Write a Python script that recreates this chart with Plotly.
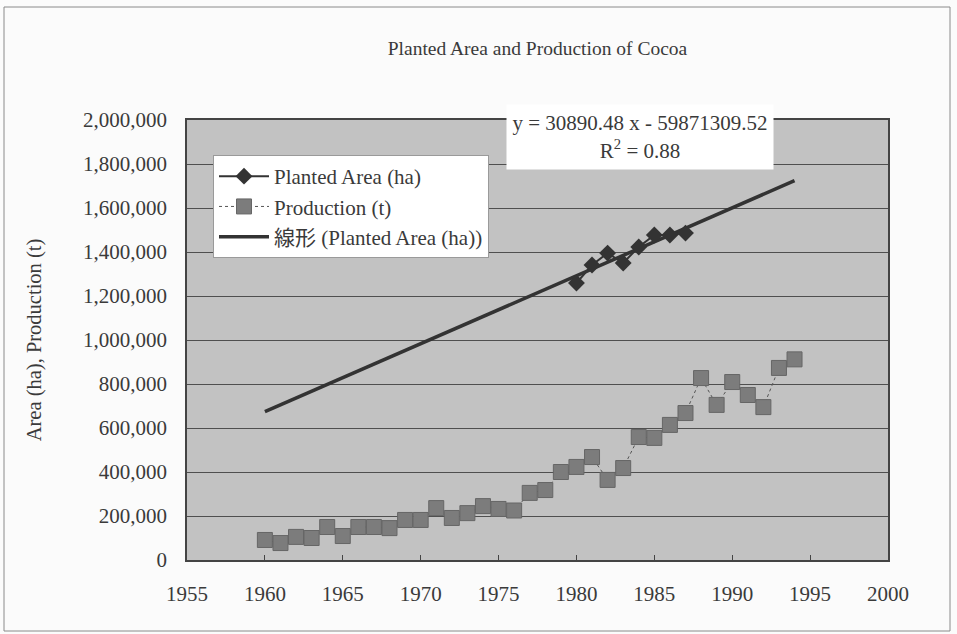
import plotly.graph_objects as go

# ---- data ----
area_years = [1980, 1981, 1982, 1983, 1984, 1985, 1986, 1987]
planted_area = [1259000, 1341000, 1395000, 1350000, 1423000, 1477000, 1477000, 1486000]

prod_years = list(range(1960, 1995))
production = [91000, 77000, 105000, 100000, 150000, 109000, 150000, 150000, 145000, 182000,
              182000, 236000, 191000, 213000, 245000, 232000, 225000, 305000, 318000, 400000,
              423000, 468000, 364000, 418000, 559000, 555000, 614000, 668000, 827000, 705000,
              809000, 750000, 695000, 873000, 912000]

trend_slope = 30890.48
trend_intercept = -59871309.52
trend_years = [1960, 1994]
trend_values = [trend_slope * y + trend_intercept for y in trend_years]

x_ticks = [1955, 1960, 1965, 1970, 1975, 1980, 1985, 1990, 1995, 2000]
y_ticks = [0, 200000, 400000, 600000, 800000, 1000000, 1200000, 1400000, 1600000, 1800000, 2000000]

FONT = "Liberation Serif, Times New Roman, Noto Sans CJK JP, serif"
TXT = "#3a3a3a"

fig = go.Figure()

fig.add_trace(go.Scatter(
    x=trend_years, y=trend_values, mode="lines",
    name="線形 (Planted Area (ha))", legendrank=3, legendgroup="c",
    line=dict(color="#333333", width=3.5),
))
fig.add_trace(go.Scatter(
    x=prod_years, y=production, mode="lines+markers",
    name="Production (t)", legendrank=2, legendgroup="b",
    line=dict(color="#555555", width=1, dash="dot"),
    marker=dict(symbol="square", size=15, color="#7c7c7c",
                line=dict(color="#666666", width=1)),
))
fig.add_trace(go.Scatter(
    x=area_years, y=planted_area, mode="lines+markers",
    name="Planted Area (ha)", legendrank=1, legendgroup="a",
    line=dict(color="#333333", width=2),
    marker=dict(symbol="diamond", size=13, color="#333333"),
))

fig.update_layout(
    width=957, height=634,
    margin=dict(l=187, r=69, t=120, b=74),
    paper_bgcolor="#fbfbfb",
    plot_bgcolor="#c2c2c2",
    font=dict(family=FONT, size=21, color=TXT),
    title=dict(text="Planted Area and Production of Cocoa",
               x=0.5, xref="paper", xanchor="center",
               y=1 - 48 / 634, yref="container", yanchor="middle",
               font=dict(family=FONT, size=19.5, color=TXT)),
    showlegend=True,
    legend=dict(x=(213 - 187) / 701, y=(560 - 155) / 440,
                xanchor="left", yanchor="top",
                bgcolor="#ffffff", bordercolor="#9a9a9a", borderwidth=1,
                font=dict(family=FONT, size=21, color=TXT),
                tracegroupgap=15, itemwidth=50,
                traceorder="normal"),
    xaxis=dict(range=[1955, 2000], tickmode="array", tickvals=x_ticks,
               ticks="inside", ticklen=5, tickcolor="#444444",
               showgrid=False, zeroline=False,
               showline=True, linecolor="#444444", linewidth=1.5, mirror=True,
               ticklabelstandoff=14,
               tickfont=dict(family=FONT, size=21, color=TXT)),
    yaxis=dict(range=[0, 2000000], tickmode="array", tickvals=y_ticks,
               tickformat=",d", showgrid=True, gridcolor="#4f4f4f", gridwidth=1,
               zeroline=False, showline=True, linecolor="#444444", linewidth=1.5,
               mirror=True, ticks="", ticklabelstandoff=14,
               tickfont=dict(family=FONT, size=21, color=TXT),
               title=dict(text="Area (ha), Production (t)", standoff=36,
                          font=dict(family=FONT, size=20.5, color=TXT))),
    annotations=[dict(
        text="y = 30890.48 x - 59871309.52<br>R<sup>2</sup> = 0.88",
        xref="paper", yref="paper",
        x=(640 - 187) / 701, y=(560 - 137) / 440,
        xanchor="center", yanchor="middle",
        showarrow=False, bgcolor="#ffffff", width=264, height=62,
        align="center", font=dict(family=FONT, size=21, color=TXT),
    )],
    shapes=[dict(type="rect", xref="paper", yref="paper",
                 x0=(4 - 187) / 701, x1=(950 - 187) / 701,
                 y0=(560 - 631) / 440, y1=(560 - 7) / 440,
                 line=dict(color="#8a8a8a", width=1), fillcolor="rgba(0,0,0,0)",
                 layer="below")],
)

fig.write_html("out.html", config={"displayModeBar": False},
               post_script="document.body.style.margin='0';document.body.style.overflow='hidden';")
